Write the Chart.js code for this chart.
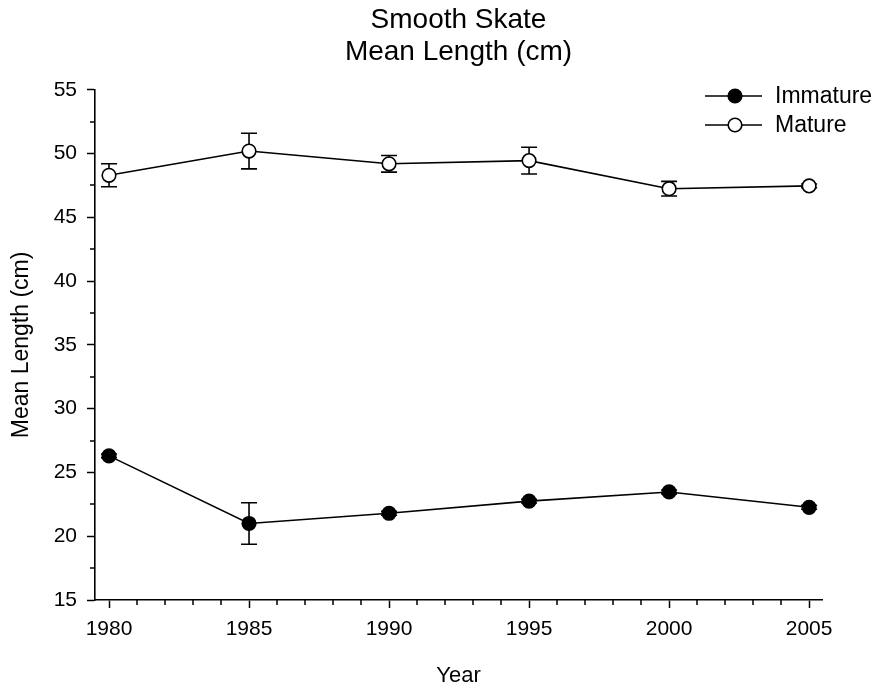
<!DOCTYPE html>
<html>
<head>
<meta charset="utf-8">
<title>Smooth Skate - Mean Length</title>
<script src="https://cdn.jsdelivr.net/npm/chart.js@4.4.0/dist/chart.umd.min.js"></script>
<style>
  html, body { margin: 0; padding: 0; background: #fff; }
</style>
</head>
<body>
<canvas id="skateChart" width="878" height="689"></canvas>
<script>
// Data
const years = [1980, 1985, 1990, 1995, 2000, 2005];
const immatureMean = [26.3, 21.0, 21.8, 22.75, 23.47, 22.27];
const immatureErr = [0.15, 1.63, 0.15, 0.15, 0.15, 0.15];
const matureMean = [48.3, 50.2, 49.2, 49.45, 47.25, 47.47];
const matureErr = [0.9, 1.4, 0.65, 1.05, 0.57, 0.15];
const xTickValues = [1980, 1985, 1990, 1995, 2000, 2005];
const yTickStep = 5;

const FONT = 'Arial, "Liberation Sans", Helvetica, sans-serif';

// error bars, drawn under the line + markers
const errorBars = {
    id: 'errorBars',
    beforeDatasetsDraw(chart) {
        const ctx = chart.ctx;
        const xs = chart.scales.x, ys = chart.scales.y;
        const sets = [[immatureMean, immatureErr], [matureMean, matureErr]];
        ctx.save();
        ctx.strokeStyle = '#000';
        ctx.lineWidth = 1.6;
        sets.forEach(([mean, err]) => {
            years.forEach((yr, i) => {
                const x = xs.getPixelForValue(yr);
                const top = ys.getPixelForValue(mean[i] + err[i]);
                const bot = ys.getPixelForValue(mean[i] - err[i]);
                ctx.beginPath();
                ctx.moveTo(x, top); ctx.lineTo(x, bot);
                ctx.moveTo(x - 8, top); ctx.lineTo(x + 8, top);
                ctx.moveTo(x - 8, bot); ctx.lineTo(x + 8, bot);
                ctx.stroke();
            });
        });
        ctx.restore();
    }
};

// minor ticks (every 2.5 on y, every year on x)
const minorTicks = {
    id: 'minorTicks',
    afterDraw(chart) {
        const ctx = chart.ctx;
        const xs = chart.scales.x, ys = chart.scales.y;
        const area = chart.chartArea;
        ctx.save();
        ctx.strokeStyle = '#000';
        ctx.lineWidth = 1.5;
        ctx.beginPath();
        for (let v = ys.min + yTickStep / 2; v < ys.max; v += yTickStep) {
            const y = Math.round(ys.getPixelForValue(v));
            ctx.moveTo(area.left - 5, y); ctx.lineTo(area.left, y);
        }
        for (let yr = xTickValues[0]; yr <= xTickValues[xTickValues.length - 1]; yr++) {
            if (xTickValues.includes(yr)) continue;
            const x = Math.round(xs.getPixelForValue(yr));
            ctx.moveTo(x, area.bottom); ctx.lineTo(x, area.bottom + 5);
        }
        ctx.stroke();
        ctx.restore();
    }
};

// legend with line + marker like the original
const lineLegend = {
    id: 'lineLegend',
    afterDraw(chart) {
        const ctx = chart.ctx;
        const rows = [
            { label: 'Immature', fill: '#000', y: 96 },
            { label: 'Mature', fill: '#fff', y: 125 }
        ];
        ctx.save();
        ctx.strokeStyle = '#000';
        ctx.lineWidth = 1.6;
        ctx.font = '23px ' + FONT;
        ctx.textBaseline = 'middle';
        rows.forEach(r => {
            ctx.beginPath();
            ctx.moveTo(705, r.y); ctx.lineTo(762, r.y);
            ctx.stroke();
            ctx.beginPath();
            ctx.arc(735, r.y, 6.8, 0, Math.PI * 2);
            ctx.fillStyle = r.fill;
            ctx.fill();
            ctx.stroke();
            ctx.fillStyle = '#000';
            ctx.fillText(r.label, 775, r.y + 0.5);
        });
        ctx.restore();
    }
};

const ctx = document.getElementById('skateChart');
new Chart(ctx, {
    type: 'line',
    data: {
        datasets: [{
            label: 'Immature',
            data: years.map((yr, i) => ({ x: yr, y: immatureMean[i] })),
            borderColor: '#000',
            borderWidth: 1.6,
            pointRadius: 6.8,
            pointBorderWidth: 1.6,
            pointBackgroundColor: '#000',
            pointBorderColor: '#000',
            tension: 0
        }, {
            label: 'Mature',
            data: years.map((yr, i) => ({ x: yr, y: matureMean[i] })),
            borderColor: '#000',
            borderWidth: 1.6,
            pointRadius: 6.8,
            pointBorderWidth: 1.6,
            pointBackgroundColor: '#fff',
            pointBorderColor: '#000',
            tension: 0
        }]
    },
    options: {
        responsive: false,
        animation: false,
        layout: { padding: { top: 0, right: 56, bottom: 0, left: 0 } },
        plugins: {
            legend: { display: false },
            tooltip: { enabled: false },
            title: {
                display: true,
                fullSize: false,
                text: ['Smooth Skate', 'Mean Length (cm)'],
                color: '#000',
                font: { family: FONT, size: 28, weight: 'normal', lineHeight: 1.14 },
                padding: { top: 4, bottom: 22 }
            }
        },
        scales: {
            x: {
                type: 'linear',
                min: 1979.5,
                max: 2005.46,
                afterBuildTicks: s => { s.ticks = xTickValues.map(v => ({ value: v })); },
                afterFit: s => { s.height = 89; },
                ticks: {
                    color: '#000',
                    font: { family: FONT, size: 21 },
                    padding: 9,
                    maxRotation: 0,
                    callback: v => String(v)
                },
                grid: { drawOnChartArea: false, drawTicks: true, tickLength: 8, tickColor: '#000', tickWidth: 1.5 },
                border: { color: '#000', width: 1.6 },
                title: {
                    display: true,
                    text: 'Year',
                    color: '#000',
                    font: { family: FONT, size: 22 },
                    padding: { top: 0, bottom: 0 }
                }
            },
            y: {
                min: 15,
                max: 55,
                afterFit: s => { s.width = 95; },
                ticks: {
                    stepSize: yTickStep,
                    color: '#000',
                    font: { family: FONT, size: 21 },
                    padding: 10
                },
                grid: { drawOnChartArea: false, drawTicks: true, tickLength: 8, tickColor: '#000', tickWidth: 1.5 },
                border: { color: '#000', width: 1.6 },
                title: {
                    display: true,
                    text: 'Mean Length (cm)',
                    color: '#000',
                    font: { family: FONT, size: 23 },
                    padding: { top: 8, bottom: 0 }
                }
            }
        }
    },
    plugins: [errorBars, minorTicks, lineLegend]
});
</script>
</body>
</html>
